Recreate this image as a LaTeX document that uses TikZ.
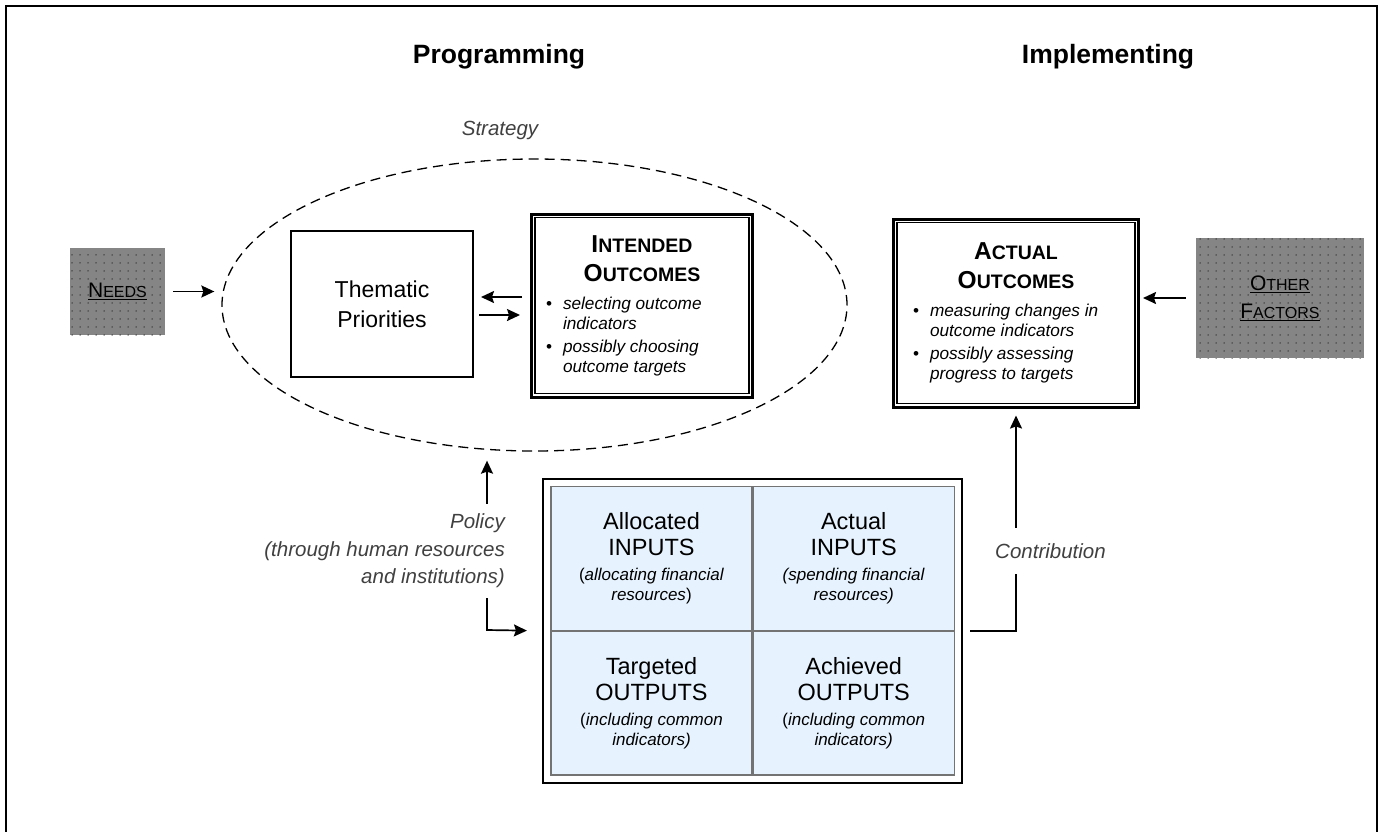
\documentclass[tikz,border=0pt]{standalone}
\usepackage{fontspec}
\setmainfont{Liberation Sans}
\usetikzlibrary{positioning,shapes.geometric,arrows.meta,patterns.meta,fit}

\definecolor{cellblue}{HTML}{E6F2FD}
\definecolor{needgray}{HTML}{858585}
\definecolor{notegray}{HTML}{404040}

\newcommand{\fsz}[2]{\fontsize{#1}{#2}\selectfont}
\newcommand{\hdcap}[2]{{\bfseries\fsz{24.5}{20}#1\fsz{19.5}{20}#2}}
\newcommand{\lbcap}[2]{{\fsz{21}{28}#1\fsz{16}{28}#2}}
\newcommand{\bline}[3]{\makebox[#1][l]{\makebox[17pt][l]{#2}\textit{#3}}}
\newcommand{\innerframe}[1]{\draw[line width=1.5pt] ([shift={(5pt,-5pt)}]#1.north west) rectangle ([shift={(-5pt,5pt)}]#1.south east);}

\begin{document}
\begin{tikzpicture}[x=1pt, y=-1pt,
    conn/.style={line width=1.7pt, -{Stealth[length=13pt,width=12pt,inset=2pt]}},
    note/.style={font=\fsz{20.5}{27.5}\itshape, text=notegray, inner sep=0pt},
    title/.style={font=\fsz{26.5}{30}\bfseries},
    graybox/.style={fill=needgray, postaction={pattern={Dots[distance=8pt,radius=0.75pt]}, pattern color=black!80},
                    inner sep=0pt, align=center, font=\fsz{21}{28}},
    outbox/.style={draw, line width=3pt, fill=white, inner sep=0pt, align=center, font=\fsz{17.2}{20}},
    cell/.style={draw=black!55, line width=1.2pt, fill=cellblue, minimum width=201pt, minimum height=143.5pt,
                 inner sep=0pt, align=center, font=\fsz{23.5}{26}}]
  \path[use as bounding box] (0,0) rectangle (1380,831);
  \clip (0,0) rectangle (1380,831);
  \draw[line width=2pt] (6,6) rectangle (1377,870);

  \node[title] (prog) at (499,57) {Programming};
  \node[title] (impl) at (1108,57) {Implementing};

  \node[draw, dashed, dash pattern=on 10pt off 6pt, ellipse, line width=1.3pt,
        minimum width=625pt, minimum height=292pt, inner sep=0pt] (strat) at (534.5,305) {};
  \node[note] (stratlbl) at (500,130) {Strategy};

  \node[graybox, minimum width=95pt, minimum height=87pt] (needs) at (117.5,291.5) {\underline{\lbcap{N}{EEDS}}};
  \node[graybox, minimum width=168pt, minimum height=120pt] (other) at (1280,298)
    {\underline{\lbcap{O}{THER}}\\\underline{\lbcap{F}{ACTORS}}};

  \node[draw, line width=2pt, fill=white, minimum width=182pt, minimum height=146pt, align=center,
        font=\fsz{23}{30}] (thematic) at (382,304) {Thematic\\Priorities};

  \node[outbox, minimum width=221pt, minimum height=183pt] (intended) at (642,305.5)
    {\hdcap{I}{NTENDED}\\[9pt]
     \hdcap{O}{UTCOMES}\\[8pt]
     \bline{192pt}{\textbullet}{selecting outcome}\\
     \bline{192pt}{}{indicators}\\[3pt]
     \bline{192pt}{\textbullet}{possibly choosing}\\
     \bline{192pt}{}{outcome targets}};
  \innerframe{intended}

  \node[outbox, minimum width=245pt, minimum height=188pt] (actual) at (1016,313)
    {\hdcap{A}{CTUAL}\\[9pt]
     \hdcap{O}{UTCOMES}\\[8pt]
     \bline{206pt}{\textbullet}{measuring changes in}\\
     \bline{206pt}{}{outcome indicators}\\[3pt]
     \bline{206pt}{\textbullet}{possibly assessing}\\
     \bline{206pt}{}{progress to targets}};
  \innerframe{actual}

  \node[cell] (alloc) at (651.5,558.5)
    {Allocated\\INPUTS\\[-1pt]{\fsz{17}{20}(\textit{allocating financial}}\\[-6pt]{\fsz{17}{20}\textit{resources})}};
  \node[cell, right=0pt of alloc] (actin)
    {Actual\\INPUTS\\[-1pt]{\fsz{17}{20}\textit{(spending financial}}\\[-6pt]{\fsz{17}{20}\textit{resources)}}};
  \node[cell, below=0pt of alloc] (target)
    {Targeted\\OUTPUTS\\[-1pt]{\fsz{17}{20}(\textit{including common}}\\[-6pt]{\fsz{17}{20}\textit{indicators)}}};
  \node[cell, right=0pt of target] (achieve)
    {Achieved\\OUTPUTS\\[-1pt]{\fsz{17}{20}(\textit{including common}}\\[-6pt]{\fsz{17}{20}\textit{indicators)}}};
  \node[fit=(alloc)(achieve), draw, line width=2pt, inner sep=7.5pt] (grid) {};

  \draw[conn, shorten <=8pt, shorten >=7pt] (needs.east) -- (needs.east -| strat.west);
  \draw[conn, shorten <=10pt, shorten >=3pt] (other.west) -- (other.west -| actual.east);
  \draw[conn, shorten <=8pt, shorten >=7pt] ([yshift=8.5pt]intended.west) -- ([yshift=8.5pt]intended.west -| thematic.east);
  \draw[conn, shorten <=5pt, shorten >=10pt] ([yshift=-9.5pt]intended.west -| thematic.east) -- ([yshift=-9.5pt]intended.west);

  \coordinate (bend) at (487,630);
  \draw[conn, {Stealth[length=13pt,width=12pt,inset=2pt]}-{Stealth[length=13pt,width=12pt,inset=2pt]},
        shorten <=9pt, shorten >=15pt] (strat.south -| bend) -- (bend) -- (grid.west);
  \node[note, fill=white, align=right, anchor=east, inner ysep=10pt] (policy) at (505,551)
    {Policy\\(through human resources\\and institutions)};

  \draw[conn, shorten <=7pt, shorten >=7pt] (grid.east) -| (actual.south);
  \node[note, fill=white, anchor=west, minimum height=46pt, inner xsep=2pt] (contrib) at (993,551) {Contribution};
\end{tikzpicture}
\end{document}
